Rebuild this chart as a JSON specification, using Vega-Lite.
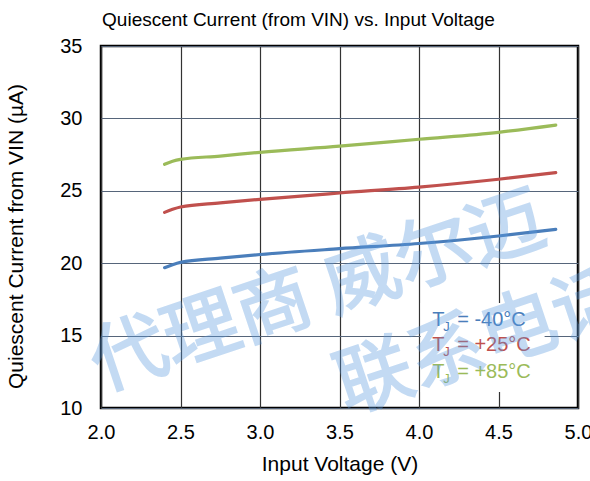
{
  "$schema": "https://vega.github.io/schema/vega-lite/v6.json",
  "autosize": "none",
  "width": 477,
  "height": 362,
  "padding": {"left": 101, "top": 46, "right": 12, "bottom": 73},
  "background": "white",
  "config": {
    "font": "Liberation Sans",
    "view": {"stroke": "black", "strokeWidth": 2.5}
  },
  "title": {
    "text": "Quiescent Current (from VIN) vs. Input Voltage",
    "fontSize": 19,
    "fontWeight": "normal",
    "color": "black",
    "anchor": "middle",
    "frame": "group",
    "dx": -41,
    "offset": 6
  },
  "datasets": {
    "curves": [
      {"v": 2.4, "i": 19.69, "s": "-40°C"},
      {"v": 2.45, "i": 19.9, "s": "-40°C"},
      {"v": 2.5, "i": 20.06, "s": "-40°C"},
      {"v": 2.75, "i": 20.35, "s": "-40°C"},
      {"v": 3.0, "i": 20.6, "s": "-40°C"},
      {"v": 3.5, "i": 21.0, "s": "-40°C"},
      {"v": 4.0, "i": 21.36, "s": "-40°C"},
      {"v": 4.5, "i": 21.88, "s": "-40°C"},
      {"v": 4.86, "i": 22.34, "s": "-40°C"},
      {"v": 2.4, "i": 23.51, "s": "+25°C"},
      {"v": 2.45, "i": 23.72, "s": "+25°C"},
      {"v": 2.5, "i": 23.88, "s": "+25°C"},
      {"v": 2.75, "i": 24.16, "s": "+25°C"},
      {"v": 3.0, "i": 24.41, "s": "+25°C"},
      {"v": 3.5, "i": 24.85, "s": "+25°C"},
      {"v": 4.0, "i": 25.26, "s": "+25°C"},
      {"v": 4.5, "i": 25.8, "s": "+25°C"},
      {"v": 4.86, "i": 26.25, "s": "+25°C"},
      {"v": 2.4, "i": 26.83, "s": "+85°C"},
      {"v": 2.45, "i": 27.04, "s": "+85°C"},
      {"v": 2.5, "i": 27.17, "s": "+85°C"},
      {"v": 2.75, "i": 27.4, "s": "+85°C"},
      {"v": 3.0, "i": 27.66, "s": "+85°C"},
      {"v": 3.5, "i": 28.08, "s": "+85°C"},
      {"v": 4.0, "i": 28.56, "s": "+85°C"},
      {"v": 4.5, "i": 29.04, "s": "+85°C"},
      {"v": 4.86, "i": 29.54, "s": "+85°C"}
    ]
  },
  "encoding": {
    "x": {
      "type": "quantitative",
      "scale": {"domain": [2, 5], "nice": false, "zero": false},
      "axis": {
        "title": "Input Voltage (V)",
        "values": [2, 2.5, 3, 3.5, 4, 4.5, 5],
        "format": ".1f",
        "domain": false,
        "ticks": false,
        "tickSize": 0,
        "labelFontSize": 20,
        "labelColor": "black",
        "labelPadding": 14,
        "labelDx": -5,
        "labelFlush": false,
        "grid": true,
        "gridColor": "#333333",
        "gridWidth": 1.2,
        "gridOpacity": 1,
        "titleFontSize": 21,
        "titleFontWeight": "normal",
        "titleColor": "black",
        "titlePadding": 11
      }
    },
    "y": {
      "type": "quantitative",
      "scale": {"domain": [10, 35], "nice": false, "zero": false},
      "axis": {
        "title": "Quiescent Current from VIN (µA)",
        "values": [10, 15, 20, 25, 30, 35],
        "domain": false,
        "ticks": false,
        "tickSize": 0,
        "labelFontSize": 20,
        "labelColor": "black",
        "labelPadding": 19,
        "labelFlush": false,
        "grid": true,
        "gridColor": "#56657a",
        "gridWidth": 1,
        "gridOpacity": 1,
        "titleFontSize": 21,
        "titleFontWeight": "normal",
        "titleColor": "black",
        "titlePadding": 33,
        "titleY": 190
      }
    }
  },
  "layer": [
    {
      "data": {"name": "curves"},
      "mark": {"type": "line", "strokeWidth": 3.2, "strokeCap": "round", "interpolate": "monotone"},
      "encoding": {
        "x": {"field": "v", "type": "quantitative"},
        "y": {"field": "i", "type": "quantitative"},
        "color": {
          "field": "s",
          "type": "nominal",
          "scale": {"domain": ["-40°C", "+25°C", "+85°C"], "range": ["#4a7ebb", "#c0504d", "#9bbb59"]},
          "legend": null
        }
      }
    },
    {
      "data": {"values": [{}]},
      "mark": {"type": "rect", "fill": "white"},
      "encoding": {
        "x": {"datum": 4.01, "type": "quantitative"},
        "x2": {"datum": 4.79},
        "y": {"datum": 11.1, "type": "quantitative"},
        "y2": {"datum": 17.25}
      }
    },
    {
      "data": {"values": [{"t": "T", "s": "-40°C"}]},
      "mark": {"type": "text", "align": "left", "baseline": "middle", "fontSize": 20},
      "encoding": {"x": {"datum": 4.083, "type": "quantitative"}, "y": {"datum": 16.08, "type": "quantitative"}, "text": {"field": "t"}, "color": {"field": "s", "type": "nominal"}}
    },
    {
      "data": {"values": [{"t": "J", "s": "-40°C"}]},
      "mark": {"type": "text", "align": "left", "baseline": "middle", "fontSize": 13, "dx": 11, "dy": 7},
      "encoding": {"x": {"datum": 4.083, "type": "quantitative"}, "y": {"datum": 16.08, "type": "quantitative"}, "text": {"field": "t"}, "color": {"field": "s", "type": "nominal"}}
    },
    {
      "data": {"values": [{"t": "= -40°C", "s": "-40°C"}]},
      "mark": {"type": "text", "align": "left", "baseline": "middle", "fontSize": 20, "dx": 25},
      "encoding": {"x": {"datum": 4.083, "type": "quantitative"}, "y": {"datum": 16.08, "type": "quantitative"}, "text": {"field": "t"}, "color": {"field": "s", "type": "nominal"}}
    },
    {
      "data": {"values": [{"t": "T", "s": "+25°C"}]},
      "mark": {"type": "text", "align": "left", "baseline": "middle", "fontSize": 20},
      "encoding": {"x": {"datum": 4.083, "type": "quantitative"}, "y": {"datum": 14.35, "type": "quantitative"}, "text": {"field": "t"}, "color": {"field": "s", "type": "nominal"}}
    },
    {
      "data": {"values": [{"t": "J", "s": "+25°C"}]},
      "mark": {"type": "text", "align": "left", "baseline": "middle", "fontSize": 13, "dx": 11, "dy": 7},
      "encoding": {"x": {"datum": 4.083, "type": "quantitative"}, "y": {"datum": 14.35, "type": "quantitative"}, "text": {"field": "t"}, "color": {"field": "s", "type": "nominal"}}
    },
    {
      "data": {"values": [{"t": "= +25°C", "s": "+25°C"}]},
      "mark": {"type": "text", "align": "left", "baseline": "middle", "fontSize": 20, "dx": 25},
      "encoding": {"x": {"datum": 4.083, "type": "quantitative"}, "y": {"datum": 14.35, "type": "quantitative"}, "text": {"field": "t"}, "color": {"field": "s", "type": "nominal"}}
    },
    {
      "data": {"values": [{"t": "T", "s": "+85°C"}]},
      "mark": {"type": "text", "align": "left", "baseline": "middle", "fontSize": 20},
      "encoding": {"x": {"datum": 4.083, "type": "quantitative"}, "y": {"datum": 12.5, "type": "quantitative"}, "text": {"field": "t"}, "color": {"field": "s", "type": "nominal"}}
    },
    {
      "data": {"values": [{"t": "J", "s": "+85°C"}]},
      "mark": {"type": "text", "align": "left", "baseline": "middle", "fontSize": 13, "dx": 11, "dy": 7},
      "encoding": {"x": {"datum": 4.083, "type": "quantitative"}, "y": {"datum": 12.5, "type": "quantitative"}, "text": {"field": "t"}, "color": {"field": "s", "type": "nominal"}}
    },
    {
      "data": {"values": [{"t": "= +85°C", "s": "+85°C"}]},
      "mark": {"type": "text", "align": "left", "baseline": "middle", "fontSize": 20, "dx": 25},
      "encoding": {"x": {"datum": 4.083, "type": "quantitative"}, "y": {"datum": 12.5, "type": "quantitative"}, "text": {"field": "t"}, "color": {"field": "s", "type": "nominal"}}
    },
    {
      "data": {"values": [{"t": "代理商 威尔迈"}]},
      "mark": {"type": "text", "align": "center", "baseline": "middle", "fontSize": 76, "font": "Noto Sans CJK SC", "fontWeight": "normal", "angle": -18.5, "fill": "#5b9bdf", "stroke": "#5b9bdf", "strokeWidth": 2, "opacity": 0.36},
      "encoding": {"x": {"datum": 3.366, "type": "quantitative"}, "y": {"datum": 17.9, "type": "quantitative"}, "text": {"field": "t"}}
    },
    {
      "data": {"values": [{"t": "联系电话"}]},
      "mark": {"type": "text", "align": "center", "baseline": "middle", "fontSize": 76, "font": "Noto Sans CJK SC", "fontWeight": "normal", "angle": -18.5, "fill": "#5b9bdf", "stroke": "#5b9bdf", "strokeWidth": 2, "opacity": 0.36},
      "encoding": {"x": {"datum": 4.404, "type": "quantitative"}, "y": {"datum": 14.5, "type": "quantitative"}, "text": {"field": "t"}}
    }
  ]
}
